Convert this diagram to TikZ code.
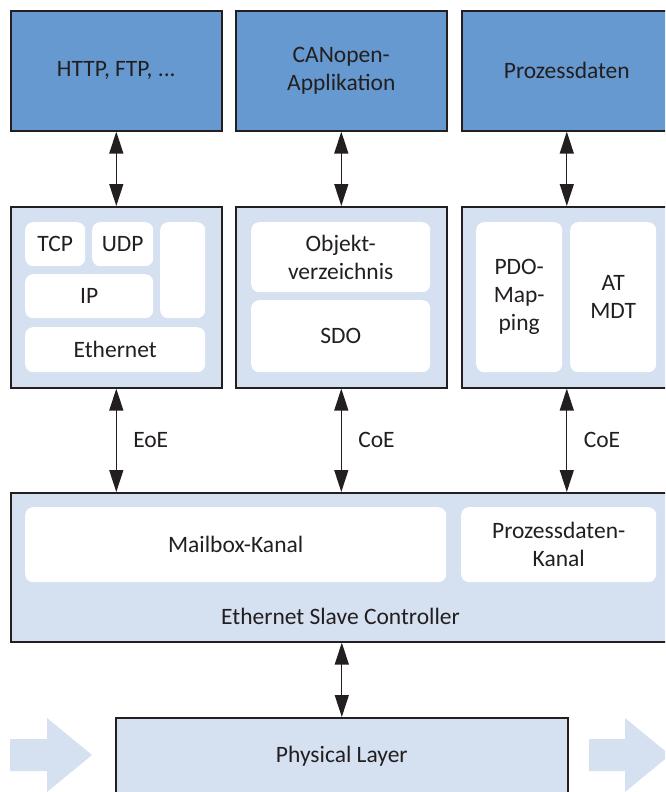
\documentclass[tikz,border=0pt]{standalone}
\usepackage{fontspec}
\setmainfont{Carlito}
\usetikzlibrary{arrows.meta}
\definecolor{dblue}{HTML}{6699CF}
\definecolor{lblue}{HTML}{D5E0F1}
\definecolor{txt}{HTML}{231F20}
\begin{document}
\begin{tikzpicture}[x=1pt,y=-1pt,
  font=\fontsize{23.5}{28}\selectfont, text=txt,
  outer/.style={draw=txt, line width=1.6pt, anchor=north west, inner sep=0pt, align=center},
  topbox/.style={outer, fill=dblue},
  midbox/.style={outer, fill=lblue},
  inbox/.style={fill=white, rounded corners=8pt, anchor=north west, inner sep=0pt, align=center},
  dtip/.tip={Triangle[length=22pt,width=14pt]},
  darr/.style={dtip-dtip, line width=1.3pt, draw=txt},
  flow/.style={fill=lblue}]
\clip (0,0) rectangle (665,792);
% top boxes
\node[topbox, minimum width=211pt, minimum height=120pt] (t1) at (10,10) {HTTP, FTP, ...};
\node[topbox, minimum width=211pt, minimum height=120pt] (t2) at (235,10) {CANopen-\\Applikation};
\node[topbox, minimum width=210pt, minimum height=120pt] (t3) at (461,10) {Prozessdaten};
% middle boxes
\node[midbox, minimum width=211pt, minimum height=181pt] (m1) at (10,206) {};
\node[midbox, minimum width=211pt, minimum height=181pt] (m2) at (235,206) {};
\node[midbox, minimum width=210pt, minimum height=181pt] (m3) at (461,206) {};
% inner boxes of m1
\node[inbox, minimum width=60pt, minimum height=44pt] (tcp) at (25,222) {TCP};
\node[inbox, minimum width=61pt, minimum height=44pt] (udp) at (92,222) {UDP};
\node[inbox, minimum width=45pt, minimum height=96pt] (blank) at (160,222) {};
\node[inbox, minimum width=128pt, minimum height=44pt] (ip) at (25,274) {IP};
\node[inbox, minimum width=180pt, minimum height=45pt] (eth) at (25,327) {Ethernet};
% inner boxes of m2
\node[inbox, minimum width=179pt, minimum height=70pt] (obj) at (251,222) {Objekt-\\verzeichnis};
\node[inbox, minimum width=179pt, minimum height=72pt] (sdo) at (251,300) {SDO};
% inner boxes of m3
\node[inbox, minimum width=86pt, minimum height=150pt] (pdo) at (476,222) {PDO-\\Map-\\ping};
\node[inbox, minimum width=86pt, minimum height=150pt] (atmdt) at (570,222) {AT\\MDT};
% ESC
\node[midbox, minimum width=661pt, minimum height=149pt] (esc) at (10,492) {};
\node[inbox, minimum width=421pt, minimum height=75pt] (mbx) at (25,507) {Mailbox-Kanal};
\node[inbox, minimum width=195pt, minimum height=75pt] (pdk) at (461,507) {Prozessdaten-\\Kanal};
\node (esctext) at (340.5,616) {Ethernet Slave Controller};
% physical layer
\node[midbox, minimum width=452pt, minimum height=77pt] (phy) at (115,717) {Physical Layer};
% flow arrows
\fill[flow] (10,739) -- (47,739) -- (47,718) -- (92,755) -- (47,792) -- (47,771) -- (10,771) -- cycle;
\fill[flow] (589,739) -- (625,739) -- (625,718) -- (670,755) -- (625,792) -- (625,771) -- (589,771) -- cycle;
% connectors
\draw[darr] (t1.south) -- (m1.north);
\draw[darr] (t2.south) -- (m2.north);
\draw[darr] (t3.south) -- (m3.north);
\draw[darr] (m1.south) -- (m1.south |- esc.north) node[midway, right=13pt] {EoE};
\draw[darr] (m2.south) -- (m2.south |- esc.north) node[midway, right=13pt] {CoE};
\draw[darr] (m3.south) -- (m3.south |- esc.north) node[midway, right=13pt] {CoE};
\draw[darr] (phy.north |- esc.south) -- (phy.north);
\end{tikzpicture}
\end{document}
